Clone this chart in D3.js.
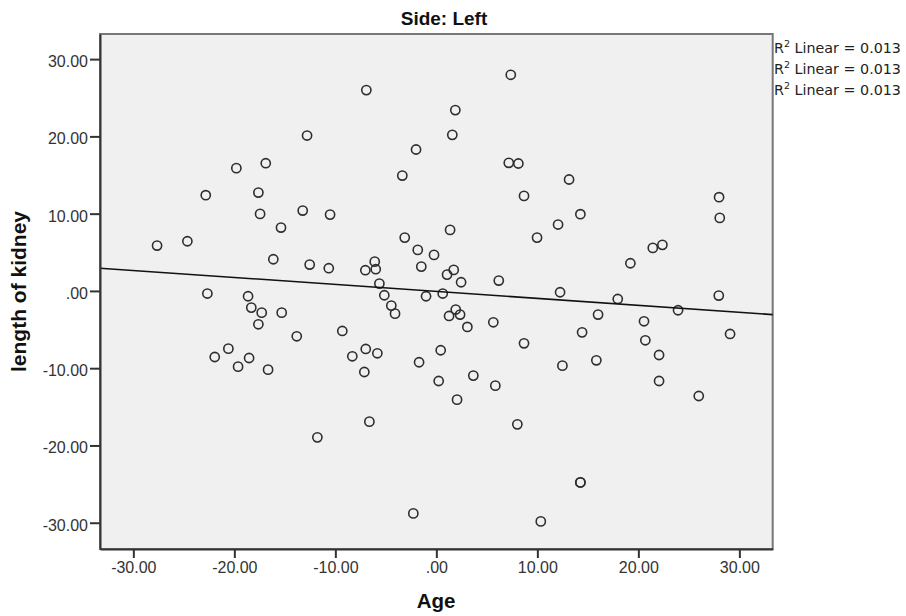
<!DOCTYPE html>
<html>
<head>
<meta charset="utf-8">
<script src="https://cdn.jsdelivr.net/npm/d3@7"></script>
<style>
  body { margin: 0; background: #fff; }
  svg { display: block; }
</style>
</head>
<body>
<svg id="chart" width="906" height="616"></svg>
<script>
// values (Side: Left)
const age = [
  -27.65, -24.65, -22.83, -22.67, -21.94, -20.59, -19.80, -19.63, -18.64, -18.32,
  -18.54, -17.62, -17.45, -17.29, -17.62, -16.89, -16.66, -16.14, -15.38, -15.31,
  -13.82, -13.23, -12.80, -12.54, -11.78, -10.65, -10.52, -9.31, -8.32, -7.13,
  -6.99, -7.03, -6.93, -6.63, -6.10, -6.00, -5.84, -5.64, -5.15, -4.46,
  -4.09, -3.37, -3.13, -2.01, -2.28, -1.84, -1.71, -1.49, -1.02, -0.23,
  0.63, 0.43, 0.23, 7.37, 1.88, 1.58, 7.17, 8.12, 13.14, 8.68,
  27.99, 14.26, 28.06, 1.36, 12.05, 9.97, 22.38, 21.43, 19.21, 1.72,
  1.06, 2.45, 6.18, 12.25, 17.96, 27.96, 23.93, 1.92, 1.26, 2.35,
  16.01, 3.07, 5.64, 20.56, 14.43, 29.08, 20.69, 8.68, 22.05, 15.84,
  12.48, 3.66, 5.84, 22.05, 25.98, 2.05, 8.02, 14.26, 14.26, 10.34
];
const kidney = [
  5.87, 6.43, 12.39, -0.34, -8.55, -7.47, 15.89, -9.80, -0.69, -2.16,
  -8.68, 12.73, 9.97, -2.81, -4.32, 16.53, -10.19, 4.10, 8.20, -2.81,
  -5.87, 10.40, 20.11, 3.41, -18.95, 2.94, 9.88, -5.18, -8.46, -10.49,
  -7.51, 2.68, 25.99, -16.92, 3.79, 2.81, -8.07, 0.95, -0.56, -1.90,
  -2.94, 14.93, 6.90, 18.30, -28.79, 5.31, -9.23, 3.15, -0.69, 4.66,
  -0.34, -7.68, -11.66, 27.97, 23.40, 20.20, 16.58, 16.49, 14.42, 12.30,
  12.13, 9.93, 9.45, 7.90, 8.59, 6.90, 5.96, 5.57, 3.58, 2.72,
  2.11, 1.12, 1.34, -0.17, -1.04, -0.60, -2.50, -2.41, -3.24, -3.06,
  -3.06, -4.66, -4.06, -3.93, -5.36, -5.57, -6.39, -6.78, -8.29, -8.98,
  -9.67, -10.96, -12.26, -11.66, -13.60, -14.07, -17.27, -24.78, -24.78, -29.83
];
const tickValues = [-30, -20, -10, 0, 10, 20, 30];
const fitIntercept = -0.06;
const fitSlope = -0.0902;
const rsqLabels = ["0.013", "0.013", "0.013"];

const svg = d3.select("#chart");
const plotL = 100, plotR = 772.7, plotT = 34, plotB = 549;

const x = d3.scaleLinear().domain([-33.3, 33.3]).range([plotL, plotR]);
const y = d3.scaleLinear().domain([-33.4, 33.25]).range([plotB, plotT]);

const fmt = (d) => (d === 0 ? ".00" : d.toFixed(2));

// plot background + frame
svg.append("rect")
  .attr("x", plotL).attr("y", plotT)
  .attr("width", plotR - plotL).attr("height", plotB - plotT)
  .attr("fill", "#f0f0f0")
  .attr("stroke", "#777")
  .attr("stroke-width", 2);

// points
svg.append("g")
  .selectAll("circle")
  .data(age.map((a, i) => ({ a, k: kidney[i] })))
  .join("circle")
  .attr("cx", (d) => x(d.a))
  .attr("cy", (d) => y(d.k))
  .attr("r", 4.6)
  .attr("fill", "none")
  .attr("stroke", "#2e2e2e")
  .attr("stroke-width", 1.6);

// linear fit line
const xd = x.domain();
svg.append("line")
  .attr("x1", x(xd[0])).attr("y1", y(fitIntercept + fitSlope * xd[0]))
  .attr("x2", x(xd[1])).attr("y2", y(fitIntercept + fitSlope * xd[1]))
  .attr("stroke", "#111")
  .attr("stroke-width", 1.6);

// axes
const xAxis = svg.append("g")
  .attr("transform", `translate(0,${plotB})`)
  .call(d3.axisBottom(x).tickValues(tickValues).tickFormat(fmt).tickSize(9).tickPadding(4).tickSizeOuter(0));
const yAxis = svg.append("g")
  .attr("transform", `translate(${plotL},0)`)
  .call(d3.axisLeft(y).tickValues(tickValues).tickFormat(fmt).tickSize(10).tickPadding(2).tickSizeOuter(0));

[xAxis, yAxis].forEach((g) => {
  g.select(".domain").attr("stroke", "#333").attr("stroke-width", 2);
  g.selectAll(".tick line").attr("stroke", "#333").attr("stroke-width", 2);
  g.selectAll(".tick text")
    .attr("fill", "#333")
    .style("font-family", "'Liberation Sans', Arial, sans-serif")
    .style("font-size", "16px");
});
yAxis.selectAll(".tick text").attr("dy", "0.46em");

// titles
svg.append("text")
  .attr("x", 444).attr("y", 25)
  .attr("text-anchor", "middle")
  .style("font-family", "'Liberation Sans', Arial, sans-serif")
  .style("font-size", "19px")
  .style("font-weight", "bold")
  .attr("fill", "#111")
  .text("Side: Left");

svg.append("text")
  .attr("x", 436).attr("y", 608)
  .attr("text-anchor", "middle")
  .style("font-family", "'Liberation Sans', Arial, sans-serif")
  .style("font-size", "20.5px")
  .style("font-weight", "bold")
  .attr("fill", "#111")
  .text("Age");

svg.append("text")
  .attr("transform", "translate(25.5,291.5) rotate(-90)")
  .attr("text-anchor", "middle")
  .style("font-family", "'Liberation Sans', Arial, sans-serif")
  .style("font-size", "21px")
  .style("font-weight", "bold")
  .attr("fill", "#111")
  .text("length of kidney");

// R² labels
const rsq = svg.append("g")
  .style("font-family", "'DejaVu Sans', sans-serif")
  .style("font-size", "14.3px")
  .attr("fill", "#222");
rsqLabels.forEach((v, i) => {
  const t = rsq.append("text").attr("x", 774).attr("y", 53 + i * 21);
  t.append("tspan").text("R");
  t.append("tspan").attr("dy", -6).style("font-size", "9.5px").text("2");
  t.append("tspan").attr("dy", 6).text(" Linear = " + v);
});
</script>
</body>
</html>
